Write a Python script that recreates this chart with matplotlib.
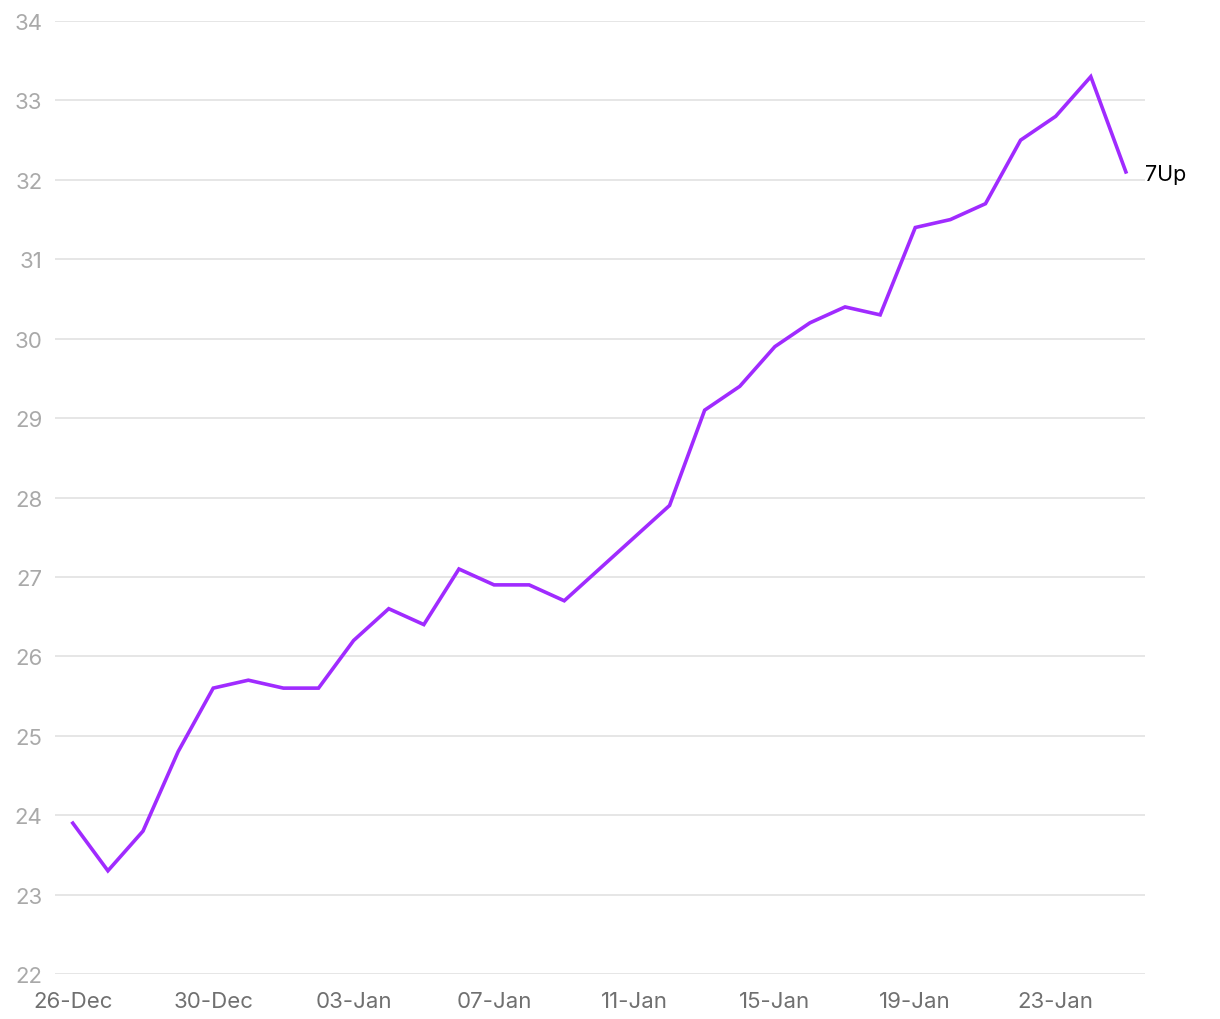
import matplotlib
matplotlib.use("Agg")
import matplotlib.pyplot as plt
import pandas as pd

plt.rcParams["font.family"] = ["Inter", "DejaVu Sans"]

dates = pd.date_range("2023-12-26", "2024-01-25", freq="D")
values = [23.9, 23.3, 23.8, 24.8, 25.6, 25.7, 25.6, 25.6, 26.2, 26.6,
          26.4, 27.1, 26.9, 26.9, 26.7, 27.1, 27.5, 27.9, 29.1, 29.4,
          29.9, 30.2, 30.4, 30.3, 31.4, 31.5, 31.7, 32.5, 32.8, 33.3,
          32.1]
series_name = "7Up"
yticks = list(range(22, 35))

fig = plt.figure(figsize=(12.2, 10.2), dpi=100)
ax = fig.add_axes([0.045, 0.0441, 0.8934, 0.9343])

x = list(range(len(values)))
ax.plot(x, values, color="#A02BFF", linewidth=2.6, solid_joinstyle="miter")
ax.text(x[-1] + 0.55, values[-1], series_name, fontsize=15.5, color="black",
        va="center_baseline", ha="left")

ax.set_xlim(-0.51, 30.54)
ax.set_ylim(22, 34)
ax.set_yticks(yticks)
ax.set_yticklabels([str(v) for v in yticks], color="#a9a9a9", fontsize=16)
xt = x[::4]
ax.set_xticks(xt)
ax.set_xticklabels([dates[i].strftime("%d-%b") for i in xt], color="#707070", fontsize=16)
ax.tick_params(axis="y", length=0, pad=9)
ax.tick_params(axis="x", length=0, pad=12.5)

ax.grid(axis="y", color="#e2e2e2", linewidth=1.2)
ax.set_axisbelow(True)
for s in ax.spines.values():
    s.set_visible(False)

fig.savefig("out.png", dpi=100)
